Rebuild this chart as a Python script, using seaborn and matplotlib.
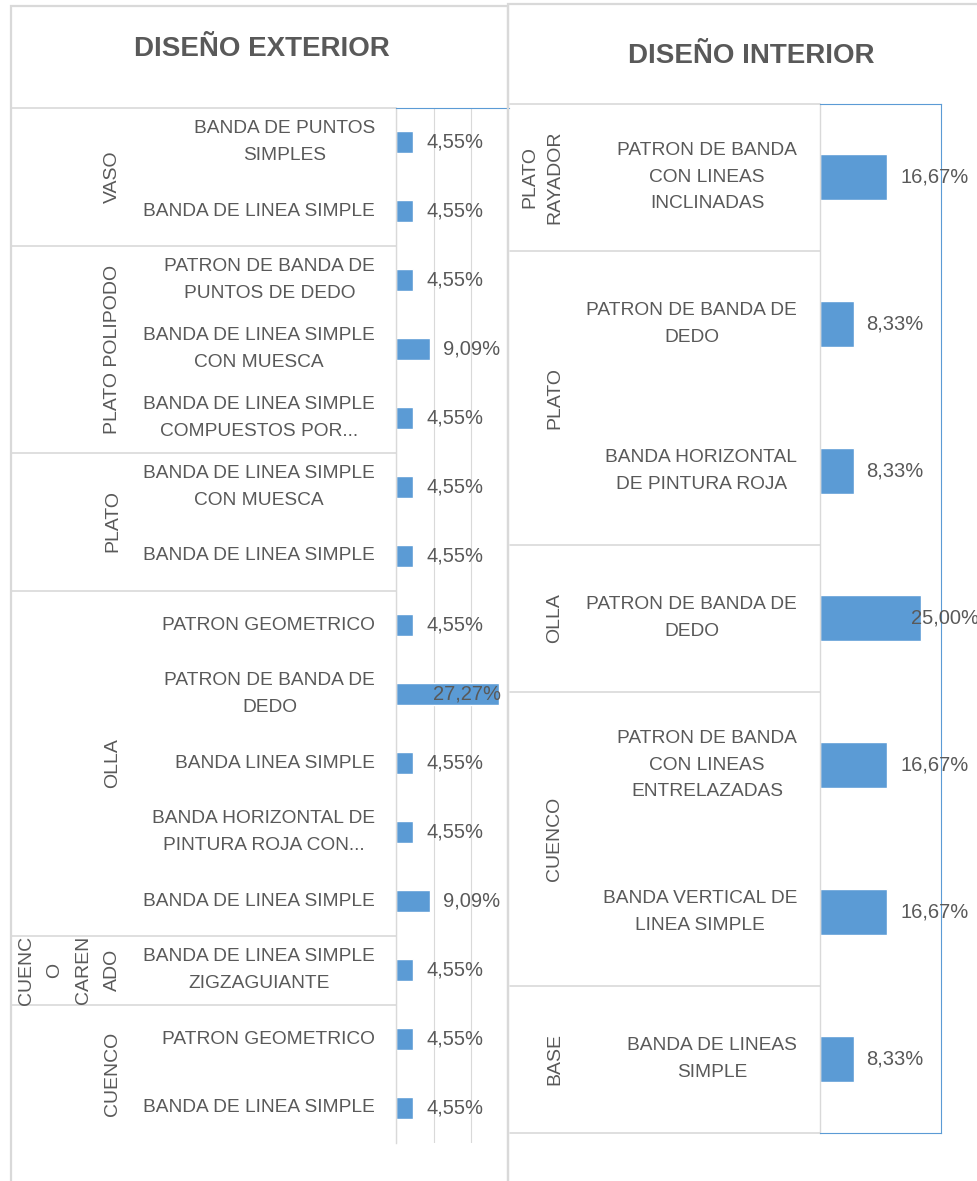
import matplotlib
matplotlib.use("Agg")
import matplotlib.pyplot as plt
import matplotlib.transforms as mtransforms
from matplotlib.patches import Rectangle
import pandas as pd
import seaborn as sns

# Datos - diseño exterior
ext_grupos = ["VASO", "VASO",
              "PLATO POLIPODO", "PLATO POLIPODO", "PLATO POLIPODO",
              "PLATO", "PLATO",
              "OLLA", "OLLA", "OLLA", "OLLA", "OLLA",
              "CUENCO CARENADO",
              "CUENCO", "CUENCO"]
ext_disenos = ["BANDA DE PUNTOS\nSIMPLES",
               "BANDA DE LINEA SIMPLE",
               "PATRON DE BANDA DE\nPUNTOS DE DEDO",
               "BANDA DE LINEA SIMPLE\nCON MUESCA",
               "BANDA DE LINEA SIMPLE\nCOMPUESTOS POR...",
               "BANDA DE LINEA SIMPLE\nCON MUESCA",
               "BANDA DE LINEA SIMPLE",
               "PATRON GEOMETRICO",
               "PATRON DE BANDA DE\nDEDO",
               "BANDA LINEA SIMPLE",
               "BANDA HORIZONTAL DE\nPINTURA ROJA CON...",
               "BANDA DE LINEA SIMPLE",
               "BANDA DE LINEA SIMPLE\nZIGZAGUIANTE",
               "PATRON GEOMETRICO",
               "BANDA DE LINEA SIMPLE"]
ext_pct = [4.55, 4.55, 4.55, 9.09, 4.55, 4.55, 4.55, 4.55, 27.27,
           4.55, 4.55, 9.09, 4.55, 4.55, 4.55]

# Datos - diseño interior
int_grupos = ["PLATO RAYADOR", "PLATO", "PLATO", "OLLA",
              "CUENCO", "CUENCO", "BASE"]
int_disenos = ["PATRON DE BANDA\nCON LINEAS\nINCLINADAS",
               "PATRON DE BANDA DE\nDEDO",
               "BANDA HORIZONTAL\nDE PINTURA ROJA",
               "PATRON DE BANDA DE\nDEDO",
               "PATRON DE BANDA\nCON LINEAS\nENTRELAZADAS",
               "BANDA VERTICAL DE\nLINEA SIMPLE",
               "BANDA DE LINEAS\nSIMPLE"]
int_pct = [16.67, 8.33, 8.33, 25.00, 16.67, 16.67, 8.33]

# como Excel parte las etiquetas de grupo
nombres_grupo = {"CUENCO CARENADO": "CUENC\nO\nCAREN\nADO",
                 "PLATO RAYADOR": "PLATO\nRAYADOR"}

W, H = 977, 1181
AZUL = "#5B9BD5"
GRIS = "#D9D9D9"
TEXTO = "#595959"

sns.set_theme(style="white")
plt.rcParams['font.family'] = ['Liberation Sans Narrow', 'Liberation Sans', 'DejaVu Sans']

fig = plt.figure(figsize=(W / 100, H / 100), dpi=100)


def fx(px):
    return px / W


def fy(py):
    return 1 - py / H


# marcos de los dos gráficos
fig.patches.append(Rectangle((fx(11), fy(H + 10)), fx(497), (H + 4) / H,
                             transform=fig.transFigure, fill=False,
                             edgecolor=GRIS, linewidth=1.6))
fig.patches.append(Rectangle((fx(508), fy(H + 10)), fx(500), (H + 6) / H,
                             transform=fig.transFigure, fill=False,
                             edgecolor=GRIS, linewidth=1.6))


def panel(titulo, grupos, disenos, pct, caja, x_titulo, y_titulo, x_tabla,
          x_grupo, x_diseno, limite, rejilla, linea_final, esp_grupo):
    x0, y0, x1, y1 = caja
    ax = fig.add_axes([fx(x0), fy(y1), fx(x1) - fx(x0), fy(y0) - fy(y1)])
    df = pd.DataFrame({"clave": [g + "|" + d for g, d in zip(grupos, disenos)],
                       "pct": pct})
    sns.barplot(data=df, x="pct", y="clave", orient="h", color=AZUL,
                saturation=1, width=0.31, ax=ax)
    ax.set_xlim(0, 30)
    ax.set_ylim(len(pct) - 0.5, -0.5)
    ax.set_xlabel("")
    ax.set_ylabel("")
    ax.set_yticks([])
    ax.set_xticks([0, 10, 20, 30])
    ax.tick_params(axis="x", length=0, labelbottom=False)
    if rejilla:
        ax.grid(axis="x", color=GRIS, linewidth=0.8)
        ax.set_axisbelow(True)
    for s in ["top", "right", "bottom"]:
        ax.spines[s].set_color(AZUL)
        ax.spines[s].set_linewidth(0.8)
    ax.spines["left"].set_color(GRIS)
    ax.spines["left"].set_linewidth(1.0)
    if rejilla:
        ax.spines["bottom"].set_visible(False)
        ax.spines["right"].set_visible(False)

    fig.text(fx(x_titulo), fy(y_titulo), titulo, ha="center", va="center",
             fontsize=20, fontweight="bold", color=TEXTO)

    trans = mtransforms.blended_transform_factory(fig.transFigure, ax.transData)

    # etiquetas de diseño
    for i, d in enumerate(disenos):
        ax.text(fx(x_diseno), i, d, transform=trans, ha="right", va="center",
                multialignment="center", fontsize=13.8, color=TEXTO,
                linespacing=1.75, clip_on=False)

    # grupos y separadores
    inicio = 0
    for i in range(1, len(grupos) + 1):
        if i == len(grupos) or grupos[i] != grupos[inicio]:
            centro = (inicio + i - 1) / 2
            g = grupos[inicio]
            ax.text(fx(x_grupo), centro, nombres_grupo.get(g, g), transform=trans,
                    rotation=90, ha="right", va="center", multialignment="center",
                    fontsize=14, color=TEXTO, linespacing=esp_grupo, clip_on=False)
            ax.plot([fx(x_tabla), fx(x0)], [inicio - 0.5, inicio - 0.5],
                    transform=trans, color=GRIS, linewidth=1.2, clip_on=False)
            inicio = i
    if linea_final:
        ax.plot([fx(x_tabla), fx(x0)], [len(grupos) - 0.5] * 2,
                transform=trans, color=GRIS, linewidth=1.2, clip_on=False)

    # etiquetas de datos
    renderer = fig.canvas.get_renderer()
    for i, v in enumerate(pct):
        t = ax.annotate(f"{v:.2f}%".replace(".", ","), xy=(v, i), xytext=(13, 0),
                        textcoords="offset pixels", ha="left", va="center",
                        fontsize=14.5, color=TEXTO, annotation_clip=False)
        bb = t.get_window_extent(renderer)
        if bb.x1 > limite:
            t.set_position((13 - (bb.x1 - limite), 0))
    return ax


panel("DISEÑO EXTERIOR", ext_grupos, ext_disenos, ext_pct,
      (396, 107.5, 509, 1142.5), 262, 49, 12, 121, 375, 501, True, False, 1.9)
panel("DISEÑO INTERIOR", int_grupos, int_disenos, int_pct,
      (820, 103.5, 941, 1132.5), 751, 56, 510, 563, 797, 979, False, True, 1.55)

fig.savefig("out.png", dpi=100, facecolor="white")
